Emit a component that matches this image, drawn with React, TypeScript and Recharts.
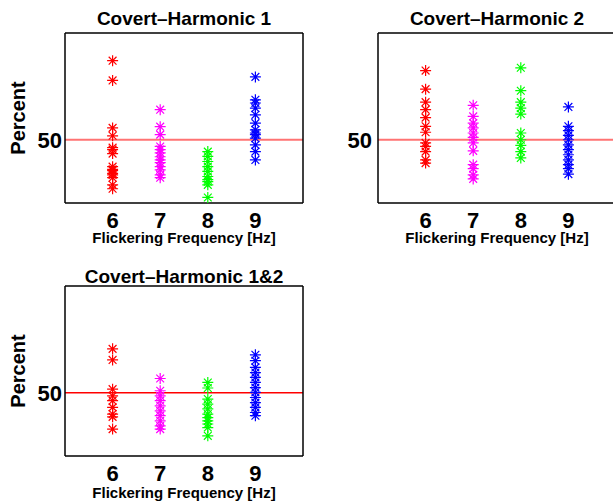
import { ScatterChart, Scatter, XAxis, YAxis, ReferenceLine, Label } from 'recharts';

// flicker frequencies (Hz) on the x axis
const freqs = [6, 7, 8, 9];
const colors = ['#ff0000', '#ff00ff', '#00ff00', '#0000ff'];
const yTicks = [50];
const yDomain = [34, 77];

// Covert–Harmonic 1, percent per subject
const h1Hz6 = [70, 65, 53, 51, 48, 47.5, 46.5, 43.2, 42.5, 42.2, 41.5, 41.1, 40.4, 38.6, 37.6];
const h1Hz7 = [57.6, 53.3, 51.3, 48.3, 47.5, 46.7, 45.7, 44.9, 44.2, 43.2, 42.4, 41.1, 40.4];
const h1Hz8 = [47.0, 45.8, 44.5, 43.2, 42.0, 40.7, 39.9, 39.4, 38.6, 35.4];
const h1Hz9 = [65.9, 60.1, 59.3, 58.0, 56.3, 54.2, 52.5, 51.7, 51.3, 50.4, 48.7, 47.0, 44.9];

// Covert–Harmonic 2
const h2Hz6 = [67.5, 62.8, 59.5, 57.6, 55.6, 53.4, 51.9, 49.2, 48.3, 47.0, 44.9, 44.1];
const h2Hz7 = [58.7, 55.9, 54.2, 53.0, 51.7, 50.6, 49.2, 47.2, 43.7, 42.7, 41.1, 40.1];
const h2Hz8 = [68.2, 62.4, 59.5, 58.0, 56.5, 51.7, 50.0, 48.6, 47.0, 45.4];
const h2Hz9 = [58.3, 53.4, 52.3, 51.1, 50.0, 48.7, 47.5, 46.2, 44.9, 43.7, 42.7, 41.3];

// Covert–Harmonic 1&2
const h12Hz6 = [61.1, 58.3, 50.9, 49.2, 48.0, 46.3, 44.6, 43.9, 40.8];
const h12Hz7 = [53.6, 50.5, 49.2, 48.0, 46.7, 45.4, 44.2, 42.9, 41.6, 40.8];
const h12Hz8 = [52.6, 51.2, 48.4, 47.1, 45.9, 44.6, 43.7, 42.9, 42.1, 41.2, 39.1];
const h12Hz9 = [59.6, 58.1, 56.4, 55.1, 53.9, 52.6, 51.3, 50.1, 48.8, 47.5, 46.3, 45.0, 44.2];

function asteriskShape(color: string) {
  return (p: any) => {
    const { cx, cy } = p;
    if (cx == null || cy == null) return <g />;
    const r = 5.5;
    const d = 3.9;
    const path =
      `M${cx - r},${cy}L${cx + r},${cy}` +
      `M${cx},${cy - r}L${cx},${cy + r}` +
      `M${cx - d},${cy - d}L${cx + d},${cy + d}` +
      `M${cx - d},${cy + d}L${cx + d},${cy - d}`;
    return <path d={path} fill="none" stroke={color} strokeWidth={1.2} />;
  };
}

const boldText = { fill: '#000', fontWeight: 700 };
const boxLine = { stroke: '#000', strokeWidth: 1.5 };

function Panel({
  title,
  groups,
  left,
  top,
  showYLabel,
  titleOffset,
  labelOffset,
  tickGap,
  lineStyle,
}: {
  title: string;
  groups: number[][];
  left: number;
  top: number;
  showYLabel: boolean;
  titleOffset: number;
  labelOffset: number;
  tickGap: number;
  lineStyle: { stroke: string; strokeOpacity: number; strokeWidth: number };
}) {
  return (
    <div style={{ position: 'absolute', left, top }}>
      <ScatterChart width={313} height={250} margin={{ top: 32, right: 9, bottom: 0, left: 0 }}>
        <XAxis
          xAxisId="top"
          orientation="top"
          type="number"
          domain={[5, 10]}
          ticks={freqs}
          tick={false}
          tickLine={false}
          height={1}
          axisLine={boxLine}
        >
          <Label value={title} position="top" offset={titleOffset - 1} style={{ fontSize: 19, ...boldText }} />
        </XAxis>
        <XAxis
          dataKey="x"
          type="number"
          domain={[5, 10]}
          ticks={freqs}
          height={47}
          tickSize={0}
          tickMargin={9}
          tickLine={false}
          axisLine={boxLine}
          tick={{ fontSize: 22, ...boldText }}
        >
          <Label value="Flickering Frequency [Hz]" position="insideBottom" offset={labelOffset} style={{ fontSize: 15, ...boldText }} />
        </XAxis>
        <YAxis
          dataKey="y"
          type="number"
          domain={yDomain}
          ticks={yTicks}
          width={65}
          tickSize={0}
          tickMargin={tickGap}
          tickLine={false}
          axisLine={boxLine}
          tick={{ fontSize: 22, ...boldText }}
        >
          {showYLabel && (
            <Label value="Percent" angle={-90} position="center" dx={-15} style={{ fontSize: 20, ...boldText }} />
          )}
        </YAxis>
        <YAxis yAxisId="right" orientation="right" type="number" domain={yDomain} width={1} tick={false} tickLine={false} axisLine={boxLine} />
        <ReferenceLine y={50} stroke={lineStyle.stroke} strokeOpacity={lineStyle.strokeOpacity} strokeWidth={lineStyle.strokeWidth} />
        {groups.map((vals, i) => (
          <Scatter
            key={i}
            name={`${freqs[i]} Hz`}
            data={vals.map((v) => ({ x: freqs[i], y: v }))}
            fill={colors[i]}
            stroke={colors[i]}
            shape={asteriskShape(colors[i])}
            activeShape={asteriskShape(colors[i])}
            isAnimationActive={false}
          />
        ))}
      </ScatterChart>
    </div>
  );
}

export default function App() {
  const softRed = { stroke: '#ff0000', strokeOpacity: 0.55, strokeWidth: 2 };
  return (
    <div
      style={{
        position: 'absolute',
        left: 0,
        top: 0,
        width: 613,
        height: 502,
        overflow: 'hidden',
        background: '#fff',
        fontFamily: '"Liberation Sans", Arial, Helvetica, sans-serif',
      }}
    >
      <Panel
        title="Covert–Harmonic 1"
        groups={[h1Hz6, h1Hz7, h1Hz8, h1Hz9]}
        left={0}
        top={0}
        showYLabel
        titleOffset={8}
        labelOffset={7}
        tickGap={3}
        lineStyle={softRed}
      />
      <Panel
        title="Covert–Harmonic 2"
        groups={[h2Hz6, h2Hz7, h2Hz8, h2Hz9]}
        left={313}
        top={0}
        showYLabel={false}
        titleOffset={8}
        labelOffset={7}
        tickGap={6}
        lineStyle={softRed}
      />
      <Panel
        title="Covert–Harmonic 1&2"
        groups={[h12Hz6, h12Hz7, h12Hz8, h12Hz9]}
        left={0}
        top={253}
        showYLabel
        titleOffset={3}
        labelOffset={5}
        tickGap={3}
        lineStyle={{ stroke: '#ff0000', strokeOpacity: 1, strokeWidth: 1.5 }}
      />
    </div>
  );
}
